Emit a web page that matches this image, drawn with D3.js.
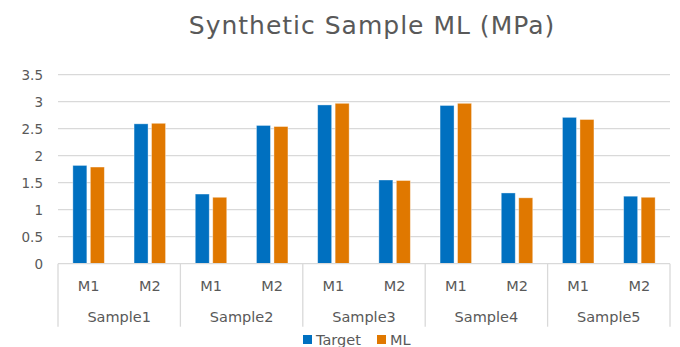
<!DOCTYPE html>
<html>
<head>
<meta charset="utf-8">
<script src="https://cdn.jsdelivr.net/npm/d3@7"></script>
<style>
  html, body { margin: 0; padding: 0; background: #fff; }
  svg { display: block; }
  text { font-family: "DejaVu Sans", sans-serif; fill: #595959; }
</style>
</head>
<body>
<svg id="chart" width="680" height="347"></svg>
<script>
const samples = ["Sample1", "Sample2", "Sample3", "Sample4", "Sample5"];
const methods = ["M1", "M2"];
const seriesNames = ["Target", "ML"];
const targetValues = [1.82, 2.59, 1.29, 2.56, 2.94, 1.55, 2.93, 1.31, 2.71, 1.25];
const mlValues     = [1.79, 2.60, 1.23, 2.54, 2.97, 1.54, 2.97, 1.22, 2.67, 1.23];
const yTicks = [0, 0.5, 1, 1.5, 2, 2.5, 3, 3.5];
const colors = ["#0070C0", "#E07800"];
const title = "Synthetic Sample ML (MPa)";

const svg = d3.select("#chart");
const plotLeft = 58, plotRight = 670, plotTop = 74.7, plotBottom = 263.7;

const y = d3.scaleLinear().domain([0, 3.5]).range([plotBottom, plotTop]);
const xS = d3.scaleBand().domain(samples).range([plotLeft, plotRight]).padding(0);
const xM = d3.scaleBand().domain(methods).range([0, xS.bandwidth()]).padding(0);
const xSer = d3.scaleBand().domain(seriesNames).range([0, xM.bandwidth()])
  .paddingInner(0.2).paddingOuter(0.85);

// gridlines
svg.append("g").selectAll("line").data(yTicks.slice(1)).join("line")
  .attr("x1", plotLeft).attr("x2", plotRight)
  .attr("y1", d => y(d)).attr("y2", d => y(d))
  .attr("stroke", "#d9d9d9").attr("stroke-width", 1.3);

// y axis labels
const yAxis = d3.axisLeft(y).tickValues(yTicks).tickSize(0).tickPadding(0)
  .tickFormat(d3.format("~g"));
const gy = svg.append("g").attr("transform", `translate(${plotLeft - 15},0)`).call(yAxis);
gy.select(".domain").remove();
gy.selectAll("text").style("font-size", "13.5px").attr("fill", "#595959")
  .style("font-family", "DejaVu Sans, sans-serif");

// data rows
const rows = [];
samples.forEach((s, i) => methods.forEach((m, j) => {
  const k = i * methods.length + j;
  rows.push({ s, m, series: "Target", v: targetValues[k] });
  rows.push({ s, m, series: "ML", v: mlValues[k] });
}));

svg.append("g").selectAll("rect").data(rows).join("rect")
  .attr("x", d => xS(d.s) + xM(d.m) + xSer(d.series))
  .attr("width", xSer.bandwidth())
  .attr("y", d => y(d.v))
  .attr("height", d => y(0) - y(d.v))
  .attr("fill", d => colors[seriesNames.indexOf(d.series)])
  .attr("stroke", "rgba(255,255,255,0.45)")
  .attr("stroke-width", 0.8);

// category axis
const axisG = svg.append("g");
axisG.append("line").attr("x1", plotLeft).attr("x2", plotRight)
  .attr("y1", plotBottom).attr("y2", plotBottom)
  .attr("stroke", "#d9d9d9").attr("stroke-width", 1.3);
const bounds = samples.map(s => xS(s)).concat([plotRight]);
axisG.selectAll("line.sep").data(bounds).join("line").attr("class", "sep")
  .attr("x1", d => d).attr("x2", d => d)
  .attr("y1", plotBottom).attr("y2", plotBottom + 63)
  .attr("stroke", "#d9d9d9").attr("stroke-width", 1.3);

const mLabels = [];
samples.forEach(s => methods.forEach(m => mLabels.push({ s, m })));
axisG.selectAll("text.m").data(mLabels).join("text").attr("class", "m")
  .attr("x", d => xS(d.s) + xM(d.m) + xM.bandwidth() / 2)
  .attr("y", 291)
  .attr("text-anchor", "middle")
  .style("font-size", "14.5px")
  .text(d => d.m);

axisG.selectAll("text.s").data(samples).join("text").attr("class", "s")
  .attr("x", d => xS(d) + xS.bandwidth() / 2)
  .attr("y", 322)
  .attr("text-anchor", "middle")
  .style("font-size", "14.5px")
  .text(d => d);

// title
svg.append("text").attr("x", 372).attr("y", 34)
  .attr("text-anchor", "middle")
  .style("font-size", "25px")
  .style("letter-spacing", "1px")
  .text(title);

// legend
const legendX = [303, 377];
const lg = svg.append("g").selectAll("g").data(seriesNames).join("g")
  .attr("transform", (d, i) => `translate(${legendX[i]},335)`);
lg.append("rect").attr("width", 9).attr("height", 9).attr("fill", (d, i) => colors[i]);
lg.append("text").attr("x", 13).attr("y", 9.5).style("font-size", "14.5px").text(d => d);
</script>
</body>
</html>
